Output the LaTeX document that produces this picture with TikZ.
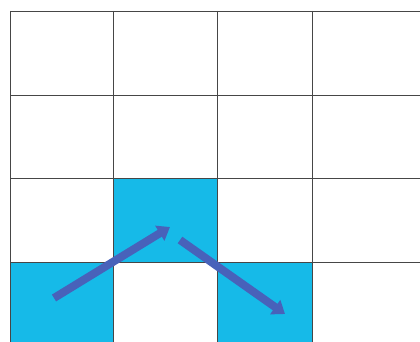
\documentclass[tikz,border=0pt]{standalone}
\usetikzlibrary{arrows.meta}
\definecolor{cellblue}{RGB}{22,186,232}
\definecolor{arrowblue}{RGB}{72,98,186}
\definecolor{gridgray}{RGB}{70,70,70}
\tikzset{
  gridline/.style={draw=gridgray, line width=0.9pt},
  bluecell/.style={fill=cellblue, draw=none},
  movearrow/.style={draw=arrowblue, line width=8pt, -{Triangle[length=12pt,width=17pt]}}
}
\begin{document}
\begin{tikzpicture}[x=1pt,y=-1pt]
\useasboundingbox (0,0) rectangle (420,342);
\fill[white] (0,0) rectangle (420,342);
% blue cells
\fill[bluecell] (10,262) rectangle (113,342);
\fill[bluecell] (113,178) rectangle (217,262);
\fill[bluecell] (217,262) rectangle (312,342);
% grid
\foreach \y in {11,95,178,262} { \draw[gridline] (10,\y) -- (420,\y); }
\foreach \x in {10,113,217,312} { \draw[gridline] (\x,11) -- (\x,342); }
% arrows
\coordinate (a1s) at (54,298);
\coordinate (a1e) at (170,227);
\coordinate (a2s) at (180,240);
\coordinate (a2e) at (285,314);
\draw[movearrow] (a1s) -- (a1e);
\draw[movearrow] (a2s) -- (a2e);
\end{tikzpicture}
\end{document}
